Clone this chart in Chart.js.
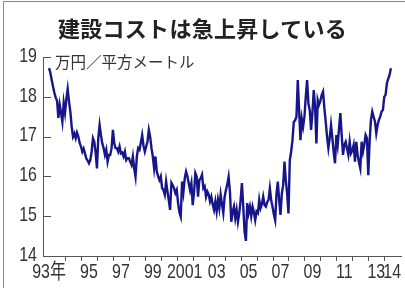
<!DOCTYPE html>
<html><head><meta charset="utf-8">
<script src="https://cdn.jsdelivr.net/npm/chart.js@4/dist/chart.umd.min.js"></script>
<style>
html,body{margin:0;padding:0;background:#fff;}
#wrap{width:405px;height:288px;position:relative;overflow:hidden;}
#c{position:absolute;left:0;top:0;}
#frame{position:absolute;left:3px;top:1px;width:410px;height:300px;border-left:1px solid #8a8a8a;border-top:1px solid #8a8a8a;}
#title{position:absolute;left:0;width:405px;top:14px;text-align:center;font:bold 22px "Noto Sans CJK JP";line-height:26px;color:#222;letter-spacing:0.3px;}
#unit{position:absolute;left:55px;top:53px;font:15.5px "Noto Sans CJK JP";line-height:16px;color:#333;}
</style>
</head><body><div id="wrap">
<div id="frame"></div>
<canvas id="c" width="405" height="288"></canvas>
<div id="title">建設コストは急上昇している</div>
<div id="unit">万円／平方メートル</div>
</div>
<script>
// Monthly values, 万円/平方メートル, Jan 1993 – mid 2014
const y1993 = [18.72,18.6,18.42,18.25,18.1,17.98,17.9,17.47,17.8,17.6,17.37,17.85];
const y1994 = [17.6,17.95,18.2,17.88,17.63,17.25,17.0,17.08,16.96,17.1,17.0,16.84];
const y1995 = [16.75,16.62,16.7,16.58,16.45,16.4,16.33,16.41,16.62,16.96,16.87,16.6];
const y1996 = [16.2,16.96,17.29,17.04,16.83,16.71,16.54,16.67,16.37,16.54,16.54,16.71];
const y1997 = [17.17,16.83,16.71,16.71,16.62,16.75,16.58,16.6,16.5,16.62,16.41,16.46];
const y1998 = [16.46,16.37,16.29,16.5,16.2,15.99,16.5,16.71,16.67,16.85,17.04,16.77];
const y1999 = [16.62,16.75,16.87,17.17,17.0,16.71,16.5,16.2,16.5,16.12,16.0,15.91];
const y2000 = [16.0,15.7,15.66,15.54,15.87,15.62,15.4,15.16,15.84,15.78,15.7,15.58];
const y2001 = [15.66,15.33,15.1,14.99,15.87,15.6,15.95,16.12,16.0,15.83,15.66,15.83];
const y2002 = [15.28,15.6,16.08,15.99,15.49,15.91,15.95,16.04,15.7,15.75,15.49,15.62];
const y2003 = [15.55,15.37,15.49,15.3,15.16,15.37,15.12,15.41,15.2,15.54,15.3,15.08];
const y2004 = [15.49,15.66,15.8,15.99,15.62,14.86,15.1,15.24,14.95,15.16,14.86,15.08];
const y2005 = [15.4,15.83,15.24,14.61,14.38,15.33,15.08,15.24,15.0,15.24,15.1,14.9];
const y2006 = [15.12,15.08,15.41,15.2,15.3,15.49,15.28,15.24,15.35,15.41,15.7,15.41];
const y2007 = [15.24,15.05,14.9,15.57,15.87,15.4,15.03,15.57,15.78,16.37,15.9,15.57];
const y2008 = [15.07,16.41,16.62,16.91,17.37,17.41,17.5,18.42,17.66,16.91,17.45,17.25];
const y2009 = [17.5,18.0,18.42,17.83,17.66,17.17,17.6,18.17,17.75,16.83,17.92,17.8];
const y2010 = [17.9,18.05,18.13,17.71,17.37,17.0,16.71,16.96,17.29,16.96,16.6,16.33];
const y2011 = [17.04,16.79,17.2,17.59,17.04,16.54,16.79,16.87,16.7,16.54,16.87,16.58];
const y2012 = [16.65,16.79,16.37,16.87,16.54,16.35,16.2,16.87,16.62,16.8,17.04,16.96];
const y2013 = [16.03,16.87,17.42,17.63,17.5,17.38,17.08,17.29,17.42,17.5,17.63,17.67];
const y2014 = [18.0,18.05,18.34,18.45,18.55,18.72];

const firstYear = 1993;
const yTicks = [14,15,16,17,18,19];
const xTickLabels = ['93年','95','97','99','2001','03','05','07','09','11','13','14'];
const xLabelYears = [1993,1995,1997,1999,2001,2003,2005,2007,2009,2011,2013,2014];
const boundaryYears = [1994,1995,1996,1997,1998,1999,2000,2001,2002,2003,2004,2005,2006,2007,2008,2009,2010,2011,2012,2013,2014];

const allValues = [].concat(y1993,y1994,y1995,y1996,y1997,y1998,y1999,y2000,y2001,y2002,
  y2003,y2004,y2005,y2006,y2007,y2008,y2009,y2010,y2011,y2012,y2013,y2014);
const points = allValues.map((v,i)=>({x: firstYear + i/12, y: v}));

// label positions: mid-year, the first ("93年") at year start
const labelTicks = xLabelYears.map((yr,i)=>({value: i===0 ? yr : yr+0.5, label: xTickLabels[i]}));

function condensedText(ctx, text, x, y, align){
  ctx.save();
  ctx.translate(x, y);
  ctx.scale(0.76, 1);
  ctx.textAlign = align;
  ctx.textBaseline = 'middle';
  ctx.fillText(text, 0, 0);
  ctx.restore();
}

const axisDecor = {
  id:'axisDecor',
  beforeDatasetsDraw(chart){
    const {ctx, chartArea, scales:{x,y}} = chart;
    ctx.save();
    ctx.strokeStyle = '#555'; ctx.lineWidth = 1;
    ctx.beginPath();
    yTicks.forEach(v=>{
      const py = Math.round(y.getPixelForValue(v))+0.5;
      ctx.moveTo(chartArea.left, py); ctx.lineTo(chartArea.left+8, py);
    });
    boundaryYears.forEach(v=>{
      const px = Math.round(x.getPixelForValue(v))+0.5;
      ctx.moveTo(px, chartArea.bottom); ctx.lineTo(px, chartArea.bottom+5);
    });
    ctx.stroke();
    ctx.fillStyle = '#333';
    ctx.font = '21px "Liberation Sans","Noto Sans CJK JP",sans-serif';
    yTicks.forEach(v=>{
      condensedText(ctx, String(v), chartArea.left-6, y.getPixelForValue(v)-1, 'right');
    });
    labelTicks.forEach(t=>{
      condensedText(ctx, t.label, x.getPixelForValue(t.value), chartArea.bottom+16, 'center');
    });
    ctx.restore();
  }
};

new Chart(document.getElementById('c'), {
  type:'line',
  data:{datasets:[{data:points, borderColor:'#16168a', borderWidth:2.4, pointRadius:0, tension:0, fill:false}]},
  options:{
    responsive:false, animation:false,
    layout:{padding:{top:57,right:4,left:0,bottom:0}},
    plugins:{legend:{display:false}, tooltip:{enabled:false}, title:{display:false}},
    scales:{
      x:{
        type:'linear', min:1992.62, max:2015.05,
        afterBuildTicks(scale){ scale.ticks = labelTicks.map(t=>({value:t.value})); },
        afterFit(scale){ scale.height = 32; scale.paddingLeft = 0; scale.paddingRight = 0; },
        grid:{display:false, drawTicks:false},
        border:{display:true, color:'#555', width:1},
        ticks:{display:false}
      },
      y:{
        min:14, max:19,
        afterBuildTicks(scale){ scale.ticks = yTicks.map(v=>({value:v})); },
        afterFit(scale){ scale.width = 43; scale.paddingTop = 0; scale.paddingBottom = 0; },
        grid:{display:false, drawTicks:false},
        border:{display:true, color:'#555', width:1},
        ticks:{display:false}
      }
    }
  },
  plugins:[axisDecor]
});
</script>
</body></html>
